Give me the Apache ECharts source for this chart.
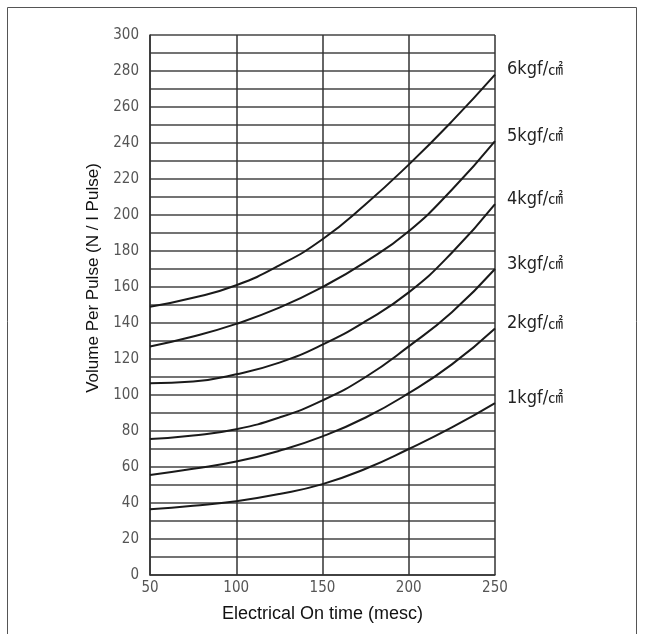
<!DOCTYPE html>
<html><head><meta charset="utf-8">
<script src="https://cdn.jsdelivr.net/npm/echarts@6/dist/echarts.min.js"></script>
<style>html,body{margin:0;padding:0;background:#fff}#c{width:645px;height:634px}</style>
</head><body><div id="c"></div>
<script>
const xTimes = [50, 75, 100, 125, 150, 175, 200, 225, 250];
const p6 = [149, 154, 161, 172, 186.5, 206, 228, 252, 278];
const p5 = [127, 132.5, 139.5, 148.5, 160, 174, 191, 214, 241];
const p4 = [106.5, 107.5, 111.5, 118, 128, 141, 157, 179, 206];
const p3 = [75.5, 77.5, 81, 87.5, 97, 110, 127, 146, 170];
const p2 = [55.5, 59, 63, 69, 77, 87.5, 101, 117, 137];
const p1 = [36.5, 38.5, 41, 45, 50.5, 59, 70, 82, 95.5];
const seriesNames = ['6kgf/㎠', '5kgf/㎠', '4kgf/㎠', '3kgf/㎠', '2kgf/㎠', '1kgf/㎠'];
const seriesData = [p6, p5, p4, p3, p2, p1];
const xTitle = 'Electrical On time (mesc)';
const yTitle = 'Volume Per Pulse (N / I Pulse)';

const chart = echarts.init(document.getElementById('c'));
const lab = "'DejaVu Sans Condensed','Liberation Sans Narrow','Open Sans',sans-serif";
const titleFont = "'Liberation Sans',Arial,sans-serif";
chart.setOption({
  animation: false,
  backgroundColor: '#fff',
  grid: {left: 150, right: 150, top: 35, bottom: 59},
  graphic: [
    {type: 'polyline', shape: {points: [[7.5, 640], [7.5, 7.5], [636.5, 7.5], [636.5, 640]]}, style: {stroke: '#555', lineWidth: 1, fill: null}},
    {type: 'text', x: 93, y: 278, rotation: Math.PI / 2,
     style: {text: yTitle, font: '17px ' + titleFont, fill: '#111', align: 'center', verticalAlign: 'middle'}}
  ],
  xAxis: {
    type: 'value', min: 50, max: 250, interval: 50,
    name: xTitle, nameLocation: 'middle', nameGap: 30,
    nameTextStyle: {fontFamily: titleFont, fontSize: 18, color: '#111'},
    axisLine: {show: true, lineStyle: {color: '#333', width: 1.5}},
    axisTick: {show: false},
    axisLabel: {color: '#555', fontFamily: lab, fontSize: 15, margin: 6},
    splitLine: {show: true, lineStyle: {color: '#333', width: 1.5}}
  },
  yAxis: {
    type: 'value', min: 0, max: 300, interval: 10,
    axisLine: {show: true, lineStyle: {color: '#333', width: 1.5}},
    axisTick: {show: false},
    axisLabel: {color: '#555', fontFamily: lab, fontSize: 15, margin: 11, formatter: v => (v % 20 === 0 ? String(v) : '')},
    splitLine: {show: true, lineStyle: {color: '#444', width: 1.5}}
  },
  series: seriesData.map((d, i) => ({
    type: 'line', name: seriesNames[i], smooth: 0.5, symbol: 'none',
    data: d.map((v, j) => [xTimes[j], v]),
    lineStyle: {color: '#1a1a1a', width: 2},
    endLabel: {
      show: true, distance: 12, offset: [0, -5],
      formatter: () => '{a|' + seriesNames[i].replace('㎠', '') + '}{b|㎠}',
      rich: {
        a: {fontFamily: lab, fontSize: 18, color: '#222'},
        b: {fontFamily: "'Noto Sans CJK JP',sans-serif", fontSize: 15, color: '#222', verticalAlign: 'top', padding: [0, 0, 3, 0]}
      }
    }
  }))
});
</script></body></html>
